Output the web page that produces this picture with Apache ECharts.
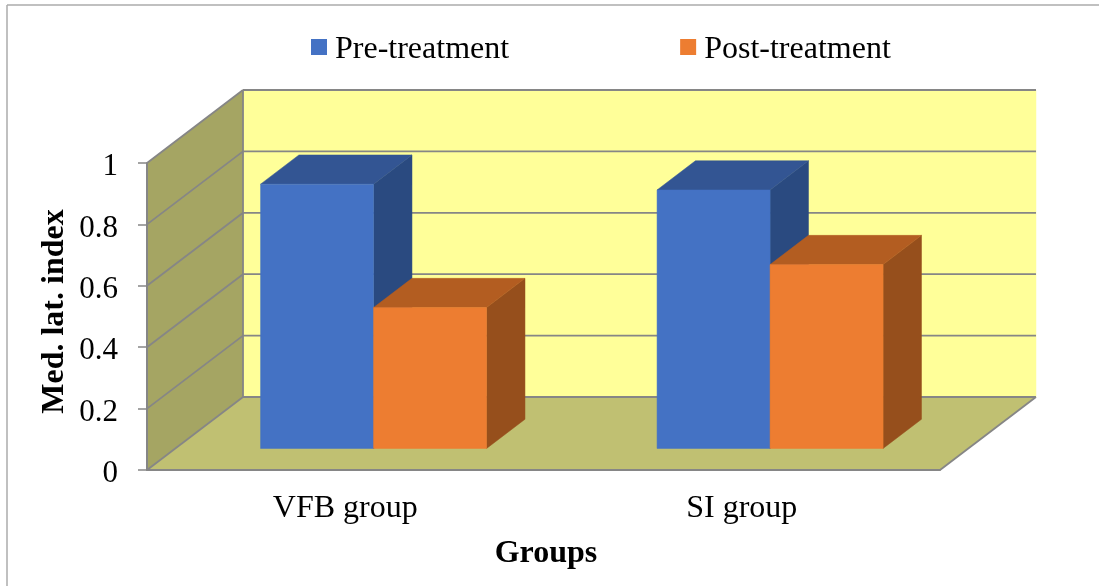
<!DOCTYPE html>
<html>
<head>
<meta charset="utf-8">
<title>Med. lat. index</title>
<script src="https://cdn.jsdelivr.net/npm/echarts@6/dist/echarts.min.js"></script>
<style>
  html, body { margin: 0; padding: 0; background: #fff; }
  #chart { width: 1099px; height: 586px; }
</style>
</head>
<body>
<div id="chart"></div>
<script>
const groups = ['VFB group', 'SI group'];
const preTreatment = [0.861, 0.842];
const postTreatment = [0.459, 0.599];
const yTicks = [0, 0.2, 0.4, 0.6, 0.8, 1];

// oblique projection of the fake 3d box
const DEPTH_X = 96;
const DEPTH_Y = -73;
const BAR_FRONT = 0.295; // bar front face, as a share of the box depth
const BAR_DEPTH = 0.4;
const BAR_WIDTH = 0.285; // share of the category band

const LINE = '#868686';
const FONT = '"Liberation Serif", "Times New Roman", serif';

function poly(points, fill) {
  return {
    type: 'polygon',
    shape: { points: points },
    style: { fill: fill, stroke: fill, lineWidth: 0.5 }
  };
}

function gridLine(x1, y1, x2, y2) {
  return {
    type: 'line',
    shape: { x1: x1, y1: y1, x2: x2, y2: y2 },
    style: { stroke: LINE, lineWidth: 1.8 }
  };
}

function renderWalls(params, api) {
  const box = params.coordSys;
  const left = box.x;
  const right = box.x + box.width;
  const top = box.y;
  const bottom = box.y + box.height;
  const children = [
    poly([[left + DEPTH_X, top + DEPTH_Y], [right + DEPTH_X, top + DEPTH_Y],
      [right + DEPTH_X, bottom + DEPTH_Y], [left + DEPTH_X, bottom + DEPTH_Y]], '#FFFF99'),
    poly([[left, top], [left + DEPTH_X, top + DEPTH_Y],
      [left + DEPTH_X, bottom + DEPTH_Y], [left, bottom]], '#A5A563'),
    poly([[left, bottom], [right, bottom],
      [right + DEPTH_X, bottom + DEPTH_Y], [left + DEPTH_X, bottom + DEPTH_Y]], '#C0C072')
  ];
  yTicks.forEach(function (t) {
    const y = api.coord([0, t])[1];
    children.push(gridLine(left, y, left + DEPTH_X, y + DEPTH_Y));
    children.push(gridLine(left + DEPTH_X, y + DEPTH_Y, right + DEPTH_X, y + DEPTH_Y));
  });
  children.push(gridLine(left + DEPTH_X, top + DEPTH_Y, left + DEPTH_X, bottom + DEPTH_Y));
  children.push(gridLine(right, bottom, right + DEPTH_X, bottom + DEPTH_Y));
  return { type: 'group', children: children };
}

function bar3d(side, front, topColor, sideColor) {
  return function (params, api) {
    const w = api.size([1, 0])[0] * BAR_WIDTH;
    const dx = DEPTH_X * BAR_DEPTH;
    const dy = DEPTH_Y * BAR_DEPTH;
    const head = api.coord([api.value(0), api.value(1)]);
    const foot = api.coord([api.value(0), 0]);
    const x0 = head[0] + DEPTH_X * BAR_FRONT + (side < 0 ? -w : 0);
    const x1 = x0 + w;
    const yTop = head[1] + DEPTH_Y * BAR_FRONT;
    const yBase = foot[1] + DEPTH_Y * BAR_FRONT;
    return {
      type: 'group',
      children: [
        poly([[x1, yTop], [x1 + dx, yTop + dy], [x1 + dx, yBase + dy], [x1, yBase]], sideColor),
        poly([[x0, yTop], [x0 + dx, yTop + dy], [x1 + dx, yTop + dy], [x1, yTop]], topColor),
        poly([[x0, yTop], [x1, yTop], [x1, yBase], [x0, yBase]], front)
      ]
    };
  };
}

const chart = echarts.init(document.getElementById('chart'));
chart.setOption({
  animation: false,
  backgroundColor: '#fff',
  grid: { left: 147, right: 159, top: 163, bottom: 116 },
  legend: {
    data: ['Pre-treatment', 'Post-treatment'],
    left: 306,
    top: 29,
    // square sits in the upper part of the icon box so it lines up with the text
    icon: 'path://M0,0H16V16H0Z M0,22L0,22Z',
    itemWidth: 16,
    itemHeight: 22,
    itemGap: 171,
    textStyle: { fontFamily: FONT, fontSize: 32, color: '#000', padding: [0, 0, 0, 3] }
  },
  xAxis: {
    type: 'category',
    data: groups,
    z: 5,
    name: 'Groups',
    nameLocation: 'middle',
    nameGap: 68,
    nameTextStyle: { fontFamily: FONT, fontSize: 32, fontWeight: 'bold', color: '#000', padding: [0, 0, 0, 5] },
    axisLine: { lineStyle: { color: LINE, width: 2 } },
    axisTick: { show: false },
    axisLabel: { fontFamily: FONT, fontSize: 32, color: '#000', margin: 23 }
  },
  yAxis: {
    type: 'value',
    min: 0,
    max: 1,
    interval: 0.2,
    z: 5,
    name: 'Med. lat. index',
    nameLocation: 'middle',
    nameGap: 76,
    nameMoveOverlap: false,
    nameTextStyle: { fontFamily: FONT, fontSize: 32, fontWeight: 'bold', color: '#000', padding: [0, 0, 0, 10] },
    splitLine: { show: false },
    axisLine: { show: true, lineStyle: { color: LINE, width: 2 } },
    axisTick: { show: true, length: 9, lineStyle: { color: LINE, width: 1.5 } },
    axisLabel: { fontFamily: FONT, fontSize: 31, color: '#000', margin: 29, verticalAlign: 'top', lineHeight: 8 }
  },
  graphic: [
    { type: 'line', silent: true, shape: { x1: 7, y1: 5, x2: 1099, y2: 5 }, style: { stroke: '#ABABAB', lineWidth: 1.5 } },
    { type: 'line', silent: true, shape: { x1: 7, y1: 5, x2: 7, y2: 586 }, style: { stroke: '#ABABAB', lineWidth: 1.5 } }
  ],
  series: [
    {
      name: 'walls',
      type: 'custom',
      silent: true,
      z: 1,
      clip: false,
      renderItem: renderWalls,
      data: [[0, 0]]
    },
    {
      name: 'Pre-treatment',
      type: 'custom',
      z: 2,
      clip: false,
      itemStyle: { color: '#4472C4' },
      renderItem: bar3d(-1, '#4472C4', '#335593', '#2A4A80'),
      encode: { x: 0, y: 1 },
      data: preTreatment.map(function (v, i) { return [i, v]; })
    },
    {
      name: 'Post-treatment',
      type: 'custom',
      z: 3,
      clip: false,
      itemStyle: { color: '#ED7D31' },
      renderItem: bar3d(1, '#ED7D31', '#B35D21', '#964F1C'),
      encode: { x: 0, y: 1 },
      data: postTreatment.map(function (v, i) { return [i, v]; })
    }
  ]
});
</script>
</body>
</html>
